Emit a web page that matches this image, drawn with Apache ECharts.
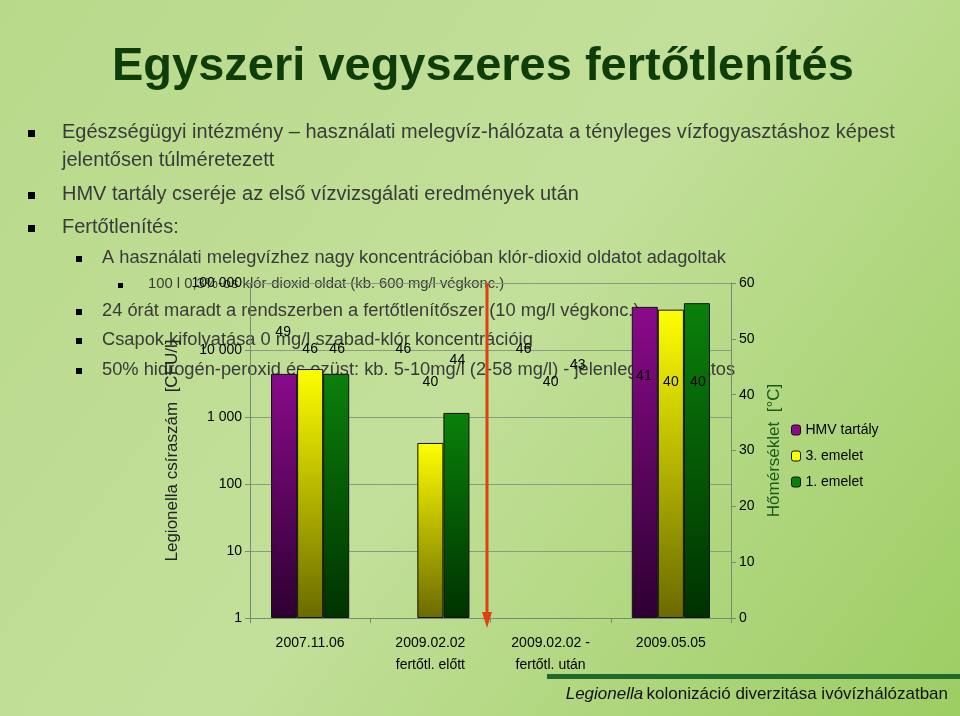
<!DOCTYPE html><html><head><meta charset="utf-8"><script src="https://cdn.jsdelivr.net/npm/echarts@6/dist/echarts.min.js"></script>
<style>html,body{margin:0;padding:0}#c{width:960px;height:716px}</style></head><body><div id="c"></div><script>
const categories=['2007.11.06','2009.02.02\nfertőtl. előtt','2009.02.02 -\nfertőtl. után','2009.05.05'];
const seriesNames=['HMV tartály','3. emelet','1. emelet'];
const cfuHMV=[4400,null,null,44000];
const cfu3=[5200,410,null,40000];
const cfu1=[4400,1150,null,50000];
const tempHMV=[49,46,46,41];
const temp3=[46,40,40,40];
const temp1=[46,44,43,40];
const colors=[['#8a0a8a','#2e0032'],['#ffff00','#6a6a00'],['#0a800a','#003200']];
const ch=echarts.init(document.getElementById('c'));
function grad(c){return new echarts.graphic.LinearGradient(0,0,0,1,[{offset:0,color:c[0]},{offset:1,color:c[1]}]);}
const txt=(x,y,t,s)=>({type:'text',left:x,top:y,z:0,style:{text:t,font:s+'px "Liberation Sans", Arial',fill:'#3a3a3a'}});
const sq=(x,y,s)=>({type:'rect',shape:{x:x,y:y,width:s,height:s},style:{fill:'#000'},z:0});
const cfu=[cfuHMV,cfu3,cfu1],tmp=[tempHMV,temp3,temp1];
const offs=[-27,0,27];
const series=[];
for(let i=0;i<3;i++){
series.push({name:seriesNames[i],type:'bar',data:cfu[i],barGap:'0%',barCategoryGap:'35%',z:3,
itemStyle:{color:grad(colors[i]),borderColor:'#111',borderWidth:1}});
}
for(let i=0;i<3;i++){
series.push({name:seriesNames[i]+' T',type:'line',yAxisIndex:1,data:tmp[i],symbol:'circle',symbolSize:1,showSymbol:true,
itemStyle:{color:'rgba(0,0,0,0)'},lineStyle:{width:0,color:'rgba(0,0,0,0)'},z:4,
label:{show:true,position:'top',offset:[offs[i],0],color:'#000',fontSize:14,fontFamily:'Liberation Sans'}});
}
ch.setOption({
backgroundColor:new echarts.graphic.LinearGradient(0,0,1,1,[{offset:0,color:'#b8d98a'},{offset:0.5,color:'#c3e09a'},{offset:1,color:'#9ccd62'}]),
animation:false,
grid:{left:250,right:229,top:283,bottom:98},
legend:{data:seriesNames.map((n,i)=>({name:n,itemStyle:{color:colors[i][0],borderColor:'#111',borderWidth:1}})),orient:'vertical',left:786,top:418,itemWidth:9,itemHeight:10,itemGap:12,textStyle:{fontSize:14,color:'#000',fontFamily:'Liberation Sans'}},
xAxis:{type:'category',data:categories,axisLine:{lineStyle:{color:'#7a8a70'}},axisTick:{show:true,lineStyle:{color:'#7a8a70'}},axisLabel:{color:'#000',fontSize:14,lineHeight:22,margin:14,fontFamily:'Liberation Sans'}},
yAxis:[{type:'log',logBase:10,min:1,max:100000,name:'Legionella csíraszám  [CFU/l]',nameLocation:'middle',nameGap:58,nameRotate:90,nameTextStyle:{fontSize:17,color:'#222',fontFamily:'Liberation Sans'},
axisLine:{show:true,lineStyle:{color:'#7a8a70'}},axisTick:{show:true,lineStyle:{color:'#7a8a70'}},
splitLine:{lineStyle:{color:'#8c9a80'}},axisLabel:{color:'#000',fontSize:14,fontFamily:'Liberation Sans',formatter:v=>String(v).replace(/\B(?=(\d{3})+(?!\d))/g,' ')}},
{type:'value',min:0,max:60,interval:10,name:'Hőmérséklet  [°C]',nameLocation:'middle',nameGap:30,nameRotate:90,nameTextStyle:{fontSize:17,color:'#1a5a1a',fontFamily:'Liberation Sans'},
axisLine:{show:true,lineStyle:{color:'#7a8a70'}},axisTick:{show:true,lineStyle:{color:'#7a8a70'}},splitLine:{show:false},axisLabel:{color:'#000',fontSize:14,fontFamily:'Liberation Sans'}}],
series:series,
graphic:[
{type:'text',left:112,top:44,z:0,style:{text:'Egyszeri vegyszeres fertőtlenítés',font:'bold 47px "Liberation Sans"',fill:'#0f3d0a'}},
sq(28,130,7),txt(62,122,'Egészségügyi intézmény – használati melegvíz-hálózata a tényleges vízfogyasztáshoz képest',20),
txt(62,150,'jelentősen túlméretezett',20),
sq(28,192,7),txt(62,184,'HMV tartály cseréje az első vízvizsgálati eredmények után',20),
sq(28,225,7),txt(62,217,'Fertőtlenítés:',20),
sq(76,256,6),txt(102,249,'A használati melegvízhez nagy koncentrációban klór-dioxid oldatot adagoltak',18.3),
sq(118,283,5),txt(148,276,'100 l 0,3%-os klór-dioxid oldat (kb. 600 mg/l végkonc.)',14.8),
sq(76,309,6),txt(102,302,'24 órát maradt a rendszerben a fertőtlenítőszer (10 mg/l végkonc.)',18.3),
sq(76,338,6),txt(102,331,'Csapok kifolyatása 0 mg/l szabad-klór koncentrációig',18.3),
sq(76,368,6),txt(102,361,'50% hidrogén-peroxid és ezüst: kb. 5-10mg/l (2-58 mg/l) - jelenlegi folyamatos',18.3),
{type:'line',z:10,shape:{x1:487,y1:283,x2:487,y2:620},style:{stroke:'#e04010',lineWidth:3}},
{type:'polygon',z:10,shape:{points:[[482,612],[492,612],[487,628]]},style:{fill:'#e04010'}},
{type:'rect',z:0,shape:{x:547,y:674,width:413,height:5},style:{fill:'#1f6a2a'}},
{type:'text',right:12,top:686,z:0,style:{rich:{i:{font:'italic 17px "Liberation Sans Narrow","Liberation Sans"',fill:'#111'},n:{font:'17px "Liberation Sans Narrow","Liberation Sans"',fill:'#111'}},text:'{i|Legionella} {n|kolonizáció diverzitása ivóvízhálózatban}'}}
]});
</script></body></html>
